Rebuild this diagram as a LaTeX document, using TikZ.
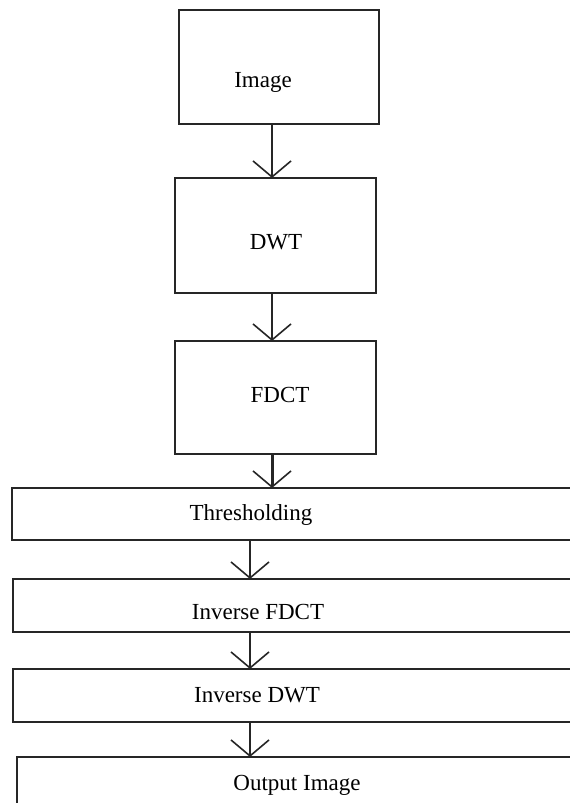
\documentclass[tikz,border=0pt]{standalone}
\usepackage{fontspec}
\setmainfont{Liberation Serif}
\usetikzlibrary{arrows.meta}
\tikzset{
  box/.style={draw=black!85, line width=1.7pt, inner sep=0pt, outer sep=0pt, rectangle},
  lbl/.style={inner sep=0pt, font=\fontsize{23}{27}\selectfont, text=black},
  conn/.style={draw=black!85, line width=1.6pt, -{Straight Barb[length=16pt,width=38pt,line width=1.6pt]}}
}
\begin{document}
\begin{tikzpicture}[x=1pt,y=-1pt]
\useasboundingbox (0,0) rectangle (570,803);
\fill[white] (0,0) rectangle (570,803);
\clip (0,0) rectangle (570,803);
% boxes
\node[box, minimum width=200pt, minimum height=114pt] (img) at (279,67) {};
\node[box, minimum width=201pt, minimum height=115pt] (dwt) at (275.5,235.5) {};
\node[box, minimum width=201pt, minimum height=113pt] (fdct) at (275.5,397.5) {};
\node[box, minimum width=588pt, minimum height=52pt] (thr) at (306,514) {};
\node[box, minimum width=587pt, minimum height=53pt] (ifdct) at (306.5,605.5) {};
\node[box, minimum width=587pt, minimum height=53pt] (idwt) at (306.5,695.5) {};
\node[box, minimum width=583pt, minimum height=93pt] (out) at (308.5,803.5) {};
% labels
\node[lbl] (limg) at (263,82) {Image};
\node[lbl] (ldwt) at (276,242) {DWT};
\node[lbl] (lfdct) at (280,395) {FDCT};
\node[lbl] (lthr) at (251,515) {Thresholding};
\node[lbl] (lifdct) at (258,612) {Inverse FDCT};
\node[lbl] (lidwt) at (257,695) {Inverse DWT};
\node[lbl] (lout) at (297,785) {Output Image};
% connector columns
\coordinate (ca) at (272,0);
\coordinate (cb) at (250,0);
% connectors
\draw[conn] (img.south -| ca) -- (dwt.north -| ca);
\draw[conn] (dwt.south -| ca) -- (fdct.north -| ca);
\draw[conn, line width=3pt] (fdct.south -| ca) -- (thr.north -| ca);
\draw[conn] (thr.south -| cb) -- (ifdct.north -| cb);
\draw[conn] (ifdct.south -| cb) -- (idwt.north -| cb);
\draw[conn] (idwt.south -| cb) -- (out.north -| cb);
\end{tikzpicture}
\end{document}
